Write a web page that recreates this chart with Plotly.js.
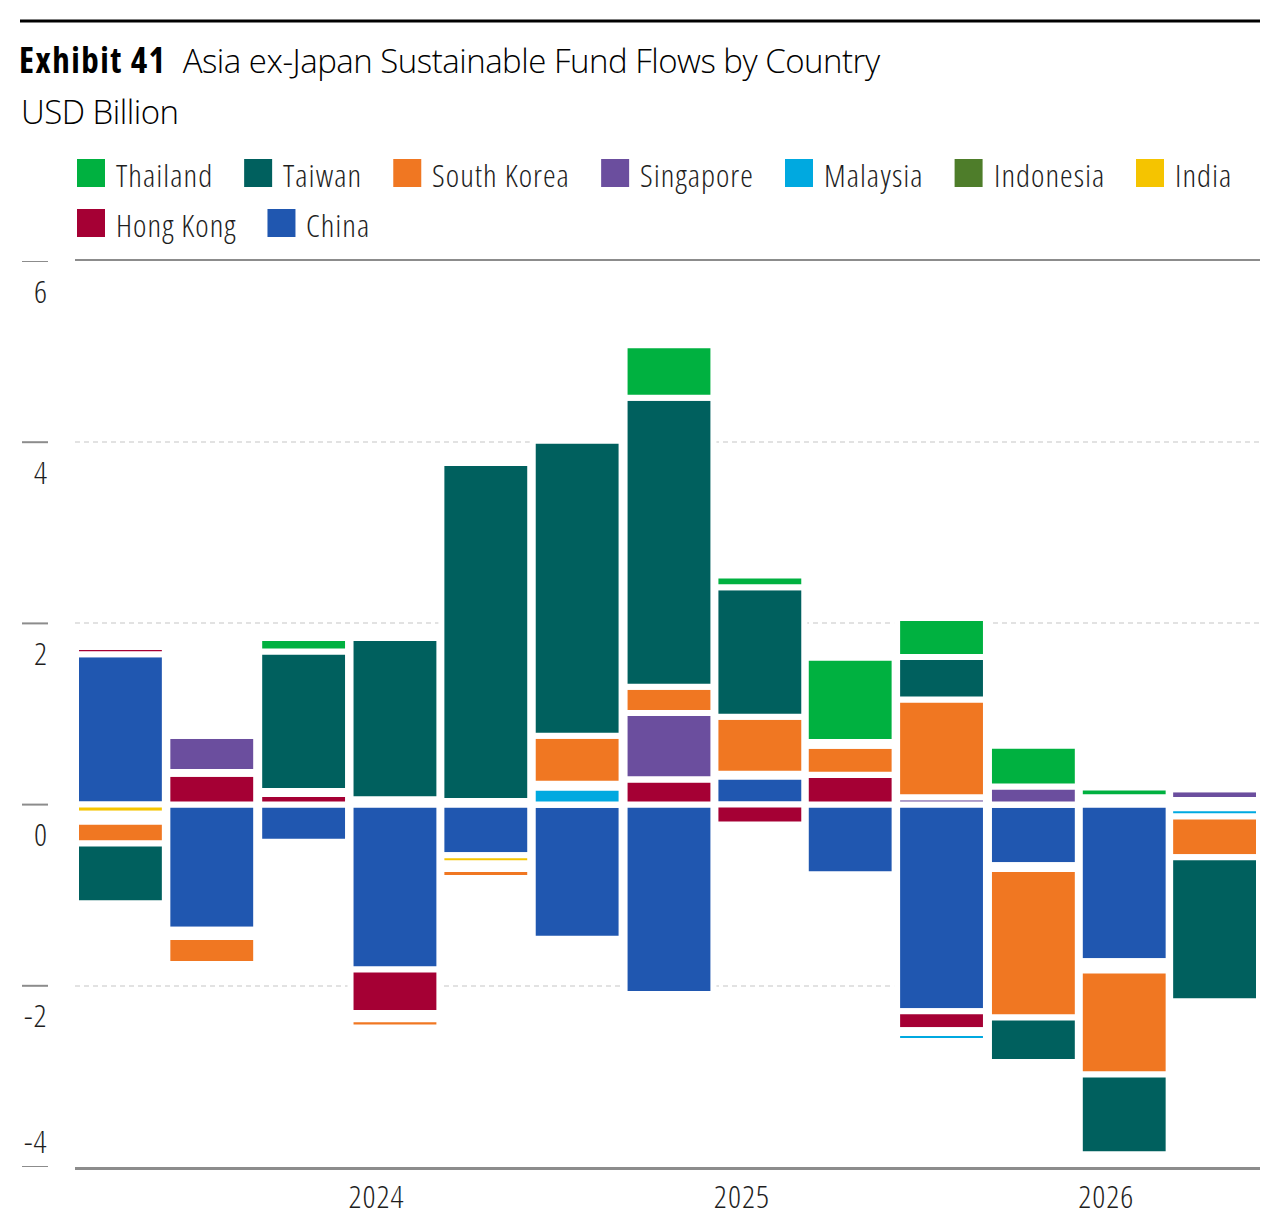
<!DOCTYPE html>
<html>
<head>
<meta charset="utf-8">
<script src="https://cdn.plot.ly/plotly-3.0.1.min.js"></script>
<style>
  html, body { margin: 0; padding: 0; background: #fff; }
  #chart { width: 1278px; height: 1221px; }
  /* narrow face, close to the condensed type of the original (also hits plotly's hidden text tester) */
  text { font-stretch: condensed; letter-spacing: 1px; }
  .gtitle { font-stretch: normal; letter-spacing: -0.5px; }
</style>
</head>
<body>
<div id="chart"></div>
<script>
// quarters, Q2 2023 .. Q2 2026 (start of each quarter)
const quarters = ['2023-04-01', '2023-07-01', '2023-10-01', '2024-01-01', '2024-04-01', '2024-07-01',
    '2024-10-01', '2025-01-01', '2025-04-01', '2025-07-01', '2025-10-01', '2026-01-01', '2026-04-01'];

// flows in USD billion
const china      = [1.66, -1.38, -0.41, -1.82, -0.56, -1.48, -2.09, 0.31, -0.77, -2.28, -0.67, -1.73, -0.02];
const hongKong   = [0.08, 0.34, 0.12, -0.48, 0.04, 0, 0.28, -0.22, 0.33, -0.21, -0.04, -0.04, 0.03];
const india      = [-0.10, 0.02, 0, 0.03, -0.09, 0, 0, 0.01, 0, -0.02, 0, -0.03, 0.02];
const indonesia  = [-0.03, -0.04, 0, 0.03, -0.02, 0, 0, 0.01, 0, -0.01, 0, -0.03, -0.02];
const malaysia   = [-0.03, -0.04, 0, -0.03, -0.02, 0.19, 0, 0.01, 0, -0.09, 0, 0.04, -0.09];
const singapore  = [-0.03, 0.40, 0, -0.04, -0.02, 0.04, 0.73, 0, 0, 0.08, 0.20, 0.04, 0.12];
const southKorea = [-0.24, -0.30, 0.03, -0.09, -0.10, 0.53, 0.29, 0.63, 0.32, 1.08, -1.64, -1.15, -0.45];
const taiwan     = [-0.66, 0, 1.54, 1.78, 3.73, 3.26, 3.19, 1.43, 0.04, 0.47, -0.49, -0.88, -1.59];
const thailand   = [0, 0, 0.15, 0, 0, 0, 0.58, 0.13, 0.93, 0.43, 0.45, 0.11, 0];

const yearTicks = ['2024-01-01', '2025-01-01', '2026-01-01'];
const yearLabels = ['2024', '2025', '2026'];
const yTicks = [6, 4, 2, 0, -2, -4];

// stacking order, bottom to top
const series = [
    { name: 'China', values: china, color: '#2057b0' },
    { name: 'Hong Kong', values: hongKong, color: '#a50034' },
    { name: 'India', values: india, color: '#f5c400' },
    { name: 'Indonesia', values: indonesia, color: '#4e7d2a' },
    { name: 'Malaysia', values: malaysia, color: '#00a9e0' },
    { name: 'Singapore', values: singapore, color: '#6b4e9e' },
    { name: 'South Korea', values: southKorea, color: '#f07722' },
    { name: 'Taiwan', values: taiwan, color: '#00605e' },
    { name: 'Thailand', values: thailand, color: '#00b140' }
];

const FONT = 'Open Sans';
const TXT = '#1e1e1e';
const LEG_SIZE = 32;
const W = 1278, H = 1221;
const M = { l: 75, r: 18, t: 261, b: 54 };
const plotW = W - M.l - M.r, plotH = H - M.t - M.b;
// pixel -> paper helpers for decorations
const px = (x) => (x - M.l) / plotW;
const py = (y) => (H - M.b - y) / plotH;

const DAY = 86400000;

// width of a legend label, measured with the same svg text styling
function textWidth(str) {
    const svg = document.createElementNS('http://www.w3.org/2000/svg', 'svg');
    const t = document.createElementNS('http://www.w3.org/2000/svg', 'text');
    t.setAttribute('style', `font-family:${FONT};font-size:${LEG_SIZE}px;font-weight:300`);
    t.textContent = str;
    svg.appendChild(t);
    document.body.appendChild(svg);
    const w = t.getComputedTextLength();
    document.body.removeChild(svg);
    return w;
}

const data = series.map((s) => ({
    type: 'bar',
    name: s.name,
    x: quarters,
    y: s.values,
    xperiod: 'M3',
    xperiodalignment: 'middle',
    width: 89 * DAY,
    marker: { color: s.color, line: { color: '#ffffff', width: 6 } },
    showlegend: false,
    hoverinfo: 'skip'
}));

const shapes = [];
const annotations = [];

// black rule above the title
shapes.push({ type: 'line', xref: 'paper', yref: 'paper', x0: px(20), x1: px(1260), y0: py(21), y1: py(21),
    line: { color: '#000', width: 3 } });

annotations.push({ xref: 'paper', yref: 'paper', x: px(19), y: py(112), xanchor: 'left', yanchor: 'middle',
    text: '<span style="font-stretch:normal;letter-spacing:-0.5px">USD Billion</span>', showarrow: false,
    font: { family: FONT, size: 33, weight: 300, color: '#000' } });

// y ticks: short marks at the far left and labels just under each mark
yTicks.forEach((v) => {
    shapes.push({ type: 'line', xref: 'paper', yref: 'y', x0: px(22), x1: px(48), y0: v, y1: v,
        line: { color: '#8c8c8c', width: 2 } });
    annotations.push({ xref: 'paper', yref: 'y', x: px(50), y: v, xanchor: 'right', yanchor: 'middle',
        yshift: v === -4 ? 27 : -29, text: String(v), showarrow: false,
        font: { family: FONT, size: LEG_SIZE, weight: 300, color: TXT } });
});

// legend, drawn by hand so the swatches can be large
let lx = 77, ly = 173;
series.slice().reverse().forEach((s) => {
    const tw = textWidth(s.name);
    if (lx + 39 + tw > 1262) { lx = 77; ly += 50; }
    shapes.push({ type: 'rect', xref: 'paper', yref: 'paper', x0: px(lx), x1: px(lx + 28),
        y0: py(ly - 14), y1: py(ly + 14), fillcolor: s.color, line: { width: 0 } });
    annotations.push({ xref: 'paper', yref: 'paper', x: px(lx + 37), y: py(ly + 1.5), xanchor: 'left', yanchor: 'middle',
        text: s.name, showarrow: false, font: { family: FONT, size: LEG_SIZE, weight: 300, color: TXT } });
    lx += 39 + tw + 31;
});

const layout = {
    width: W,
    height: H,
    margin: M,
    paper_bgcolor: '#fff',
    plot_bgcolor: '#fff',
    barmode: 'relative',
    font: { family: FONT, color: TXT, weight: 300 },
    title: {
        text: '<span style="font-stretch:condensed;letter-spacing:1.5px;font-size:35px"><b>Exhibit 41</b></span>&nbsp;&nbsp;Asia ex-Japan Sustainable Fund Flows by Country',
        xref: 'container', yref: 'container',
        x: 19 / W, xanchor: 'left',
        y: 1 - 61 / H, yanchor: 'middle',
        font: { family: FONT, size: 33, weight: 300, color: '#000' }
    },
    xaxis: {
        type: 'date',
        range: ['2023-04-01', '2026-07-01'],
        tickvals: yearTicks,
        ticktext: yearLabels,
        ticklabelshift: 27,
        ticks: '',
        showgrid: false,
        zeroline: false,
        showline: true,
        mirror: true,
        linecolor: '#8c8c8c',
        linewidth: 2.5,
        tickfont: { family: FONT, size: LEG_SIZE, weight: 300, color: TXT }
    },
    yaxis: {
        range: [-4, 6],
        dtick: 2,
        tick0: 0,
        showticklabels: false,
        ticks: '',
        zeroline: false,
        showgrid: true,
        gridcolor: '#e2e2e2',
        gridwidth: 2,
        griddash: '5px,4px',
        showline: false
    },
    shapes: shapes,
    annotations: annotations
};

Plotly.newPlot('chart', data, layout, { staticPlot: true, displayModeBar: false });
</script>
</body>
</html>
